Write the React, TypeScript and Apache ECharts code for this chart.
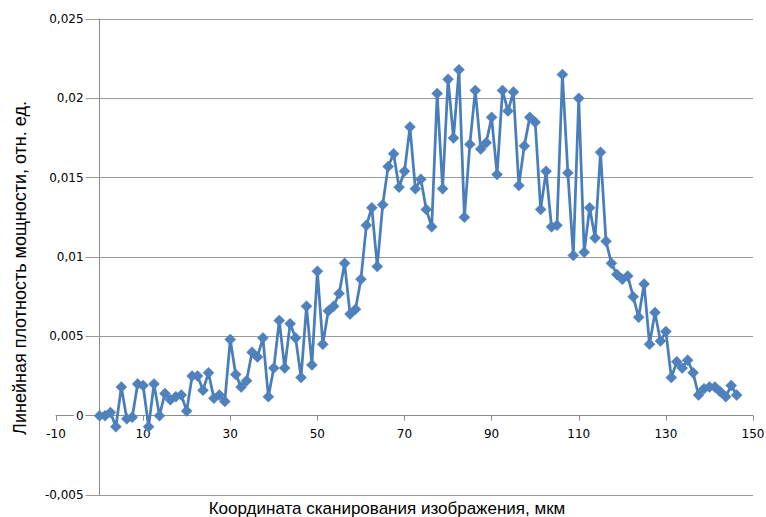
import React, { useEffect, useRef } from "react";
import * as echarts from "echarts";

// Scan coordinate, µm
const xPositions = [
  0, 1.25, 2.5, 3.75, 5, 6.25, 7.5, 8.75, 10, 11.25, 12.5, 13.75, 15, 16.25, 17.5, 18.75,
  20, 21.25, 22.5, 23.75, 25, 26.25, 27.5, 28.75, 30, 31.25, 32.5, 33.75, 35, 36.25, 37.5, 38.75,
  40, 41.25, 42.5, 43.75, 45, 46.25, 47.5, 48.75, 50, 51.25, 52.5, 53.75, 55, 56.25, 57.5, 58.75,
  60, 61.25, 62.5, 63.75, 65, 66.25, 67.5, 68.75, 70, 71.25, 72.5, 73.75, 75, 76.25, 77.5, 78.75,
  80, 81.25, 82.5, 83.75, 85, 86.25, 87.5, 88.75, 90, 91.25, 92.5, 93.75, 95, 96.25, 97.5, 98.75,
  100, 101.25, 102.5, 103.75, 105, 106.25, 107.5, 108.75, 110, 111.25, 112.5, 113.75, 115, 116.25, 117.5, 118.75,
  120, 121.25, 122.5, 123.75, 125, 126.25, 127.5, 128.75, 130, 131.25, 132.5, 133.75, 135, 136.25, 137.5, 138.75,
  140, 141.25, 142.5, 143.75, 145, 146.25,
];

// Linear power density, rel. units
const powerDensity = [
  0, 0, 0.0002, -0.0007, 0.0018, -0.0002, -0.0001, 0.002, 0.0019, -0.0007, 0.002, 0, 0.0014, 0.001, 0.0012, 0.0013,
  0.0003, 0.0025, 0.0025, 0.0016, 0.0027, 0.0011, 0.0013, 0.0009, 0.0048, 0.0026, 0.0018, 0.0022, 0.004, 0.0037, 0.0049, 0.0012,
  0.003, 0.006, 0.003, 0.0058, 0.0049, 0.0024, 0.0069, 0.0032, 0.0091, 0.0045, 0.0066, 0.0069, 0.0077, 0.0096, 0.0064, 0.0067,
  0.0086, 0.012, 0.0131, 0.0094, 0.0133, 0.0157, 0.0165, 0.0144, 0.0154, 0.0182, 0.0143, 0.0149, 0.013, 0.0119, 0.0203, 0.0143,
  0.0212, 0.0175, 0.0218, 0.0125, 0.0171, 0.0205, 0.0168, 0.0172, 0.0188, 0.0152, 0.0205, 0.0192, 0.0204, 0.0145, 0.017, 0.0188,
  0.0185, 0.013, 0.0154, 0.0119, 0.012, 0.0215, 0.0153, 0.0101, 0.02, 0.0103, 0.0131, 0.0112, 0.0166, 0.011, 0.0096, 0.0089,
  0.0086, 0.0088, 0.0075, 0.0062, 0.0083, 0.0045, 0.0065, 0.0047, 0.0053, 0.0024, 0.0034, 0.003, 0.0035, 0.0027, 0.0013, 0.0017,
  0.0018, 0.0018, 0.0015, 0.0012, 0.0019, 0.0013,
];

const xTickValues = [-10, 10, 30, 50, 70, 90, 110, 130, 150];
const X_MIN = -10;
const X_MAX = 150;
const Y_MIN = -0.005;
const Y_MAX = 0.025;
const Y_STEP = 0.005;

const xTitle = "Координата сканирования изображения, мкм";
const yTitle = "Линейная плотность мощности, отн. ед.";

const AXIS_GRAY = "#8c8c8c";
const GRID_GRAY = "#9a9a9a";
const LINE_BLUE = "#4a7ebb";
const MARKER_BLUE = "#4f81bd";

const W = 766;
const H = 517;
const GRID = { left: 56, right: 13, top: 19, bottom: 22 };

export default function App() {
  const ref = useRef<HTMLDivElement>(null);

  useEffect(() => {
    if (!ref.current) return;
    const chart = echarts.init(ref.current, null, { renderer: "svg" });
    const fmt = (v: number) => String(v).replace(".", ",");
    const data = xPositions.map((x, i) => [x, powerDensity[i]]);

    // Axes cross at (0, 0) as in the original spreadsheet chart.
    const gw = W - GRID.left - GRID.right;
    const gh = H - GRID.top - GRID.bottom;
    const yAxisOffset = -(gw * (0 - X_MIN)) / (X_MAX - X_MIN);
    const xAxisOffset = -(gh * (0 - Y_MIN)) / (Y_MAX - Y_MIN);

    chart.setOption({
      animation: false,
      backgroundColor: "#ffffff",
      grid: {
        ...GRID,
        containLabel: false,
        outerBoundsMode: "none",
      },
      xAxis: {
        type: "value",
        position: "bottom",
        offset: xAxisOffset,
        min: X_MIN,
        max: X_MAX,
        axisLine: {
          show: true,
          onZero: false,
          lineStyle: { color: AXIS_GRAY, width: 1 },
        },
        axisTick: {
          show: true,
          customValues: xTickValues,
          length: 5,
          inside: false,
          lineStyle: { color: AXIS_GRAY, width: 1 },
        },
        axisLabel: {
          customValues: xTickValues,
          margin: 12,
          color: "#000",
          fontFamily: "DejaVu Sans",
          fontSize: 12,
        },
        splitLine: { show: false },
      },
      yAxis: [
        {
          type: "value",
          position: "left",
          offset: yAxisOffset,
          min: Y_MIN,
          max: Y_MAX,
          interval: Y_STEP,
          z: 5,
          axisLine: {
            show: true,
            onZero: false,
            lineStyle: { color: AXIS_GRAY, width: 1 },
          },
          axisTick: { show: false },
          axisLabel: {
            formatter: fmt,
            margin: 14,
            padding: [1, 2],
            backgroundColor: "#ffffff",
            color: "#000",
            fontFamily: "DejaVu Sans",
            fontSize: 12,
          },
          splitLine: { show: false },
        },
        {
          type: "value",
          min: Y_MIN,
          max: Y_MAX,
          interval: Y_STEP,
          position: "right",
          z: 0,
          axisLine: { show: false, onZero: false },
          axisTick: { show: false },
          axisLabel: { show: false },
          splitLine: { show: true, lineStyle: { color: GRID_GRAY, width: 1 } },
        },
      ],
      series: [
        {
          type: "line",
          xAxisIndex: 0,
          yAxisIndex: 0,
          data,
          z: 10,
          symbol: "diamond",
          symbolSize: 11,
          showSymbol: true,
          lineStyle: { color: LINE_BLUE, width: 2.75 },
          itemStyle: { color: MARKER_BLUE, borderColor: LINE_BLUE, borderWidth: 0.5 },
        },
      ],
      graphic: [
        {
          type: "text",
          x: 20,
          y: 268,
          rotation: Math.PI / 2,
          style: {
            text: yTitle,
            font: '18px "Liberation Sans", Arial, sans-serif',
            fill: "#000",
            align: "center",
            verticalAlign: "middle",
            textAlign: "center",
            textVerticalAlign: "middle",
          },
        },
        {
          type: "text",
          x: 387,
          y: 508,
          style: {
            text: xTitle,
            font: '17px "Liberation Sans", Arial, sans-serif',
            fill: "#000",
            align: "center",
            verticalAlign: "middle",
            textAlign: "center",
            textVerticalAlign: "middle",
          },
        },
      ],
    });

    return () => {
      chart.dispose();
    };
  }, []);

  return (
    <div
      ref={ref}
      style={{ position: "fixed", left: 0, top: 0, width: W, height: H }}
    />
  );
}
